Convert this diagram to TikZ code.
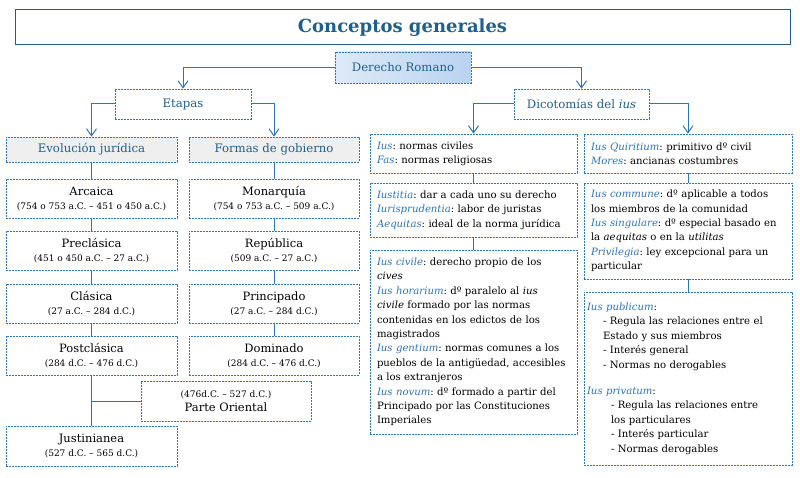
\documentclass[tikz,border=0pt]{standalone}
\usepackage{fontspec}
\setmainfont{DejaVu Serif}
\usepackage{tikz}
\usetikzlibrary{arrows.meta, positioning, calc}

\definecolor{titleblue}{HTML}{1F5F8B}
\definecolor{lineblue}{HTML}{2E75B6}
\definecolor{termblue}{HTML}{2E74B5}
\definecolor{headgray}{HTML}{EFEFEF}
\definecolor{romlight}{HTML}{DDEAF8}
\definecolor{romdark}{HTML}{BAD3F0}

\frenchspacing
\newcommand{\term}[1]{\textcolor{termblue}{\textit{#1}}}
\newcommand{\dates}[1]{{\fontsize{9}{13}\selectfont #1}}

\begin{document}
\begin{tikzpicture}[x=1pt, y=-1pt, >={Straight Barb[length=7pt,width=10pt]},
  box/.style={draw=lineblue, line width=0.8pt, dash pattern=on 2pt off 1pt, inner sep=0pt},
  head/.style={box, text=titleblue, font=\fontsize{11.7}{14}\selectfont},
  era/.style={box, minimum height=39pt, align=center, font=\fontsize{11.5}{14}\selectfont},
  note/.style={box, align=left, inner xsep=7pt, text width=193pt, font=\fontsize{10.1}{14.4}\selectfont},
  link/.style={draw=lineblue, line width=1pt}]

  % page
  \fill[white] (0,0) rectangle (800,478);
  \useasboundingbox (0,0) rectangle (800,478);

  % Title and root
  \node[box, solid, draw=titleblue, line width=1pt, minimum width=775pt, minimum height=35pt,
        text=titleblue, font=\fontsize{18}{20}\selectfont\bfseries] (title) at (402.5,27.5) {Conceptos generales};
  \node[head, minimum width=136pt, minimum height=31pt, left color=romlight, right color=romdark]
    (roman) at (403,67.5) {Derecho Romano};

  % Two main branches
  \node[head, minimum width=136pt, minimum height=30pt] (etapas) at (183,104) {Etapas};
  \node[head, minimum width=135pt, minimum height=30pt] (dicot) at (581.5,104) {Dicotomías del \textit{ius}};

  % Etapas: two columns
  \node[head, fill=headgray, minimum width=171pt, minimum height=25pt] (evol) at (91.5,149.5) {Evolución jurídica};
  \node[head, fill=headgray, minimum width=170pt, minimum height=25pt] (formas) at (274,149.5) {Formas de gobierno};

  \node[era, minimum width=171pt] (arcaica) at (91.5,198.5) {Arcaica\\\dates{(754 o 753 a.C. – 451 o 450 a.C.)}};
  \node[era, minimum width=171pt] (preclasica) at (91.5,250.5) {Preclásica\\\dates{(451 o 450 a.C. – 27 a.C.)}};
  \node[era, minimum width=171pt] (clasica) at (91.5,303.5) {Clásica\\\dates{(27 a.C. – 284 d.C.)}};
  \node[era, minimum width=171pt] (postclasica) at (91.5,355.5) {Postclásica\\\dates{(284 d.C. – 476 d.C.)}};
  \node[era, minimum width=170pt, minimum height=40pt] (oriental) at (226,401) {\dates{(476d.C. – 527 d.C.)}\\Parte Oriental};
  \node[era, minimum width=171pt, minimum height=40pt] (justinianea) at (91.5,446) {Justinianea\\\dates{(527 d.C. – 565 d.C.)}};

  \node[era, minimum width=170pt] (monarquia) at (274,198.5) {Monarquía\\\dates{(754 o 753 a.C. – 509 a.C.)}};
  \node[era, minimum width=170pt] (republica) at (274,250.5) {República\\\dates{(509 a.C. – 27 a.C.)}};
  \node[era, minimum width=170pt] (principado) at (274,303.5) {Principado\\\dates{(27 a.C. – 284 d.C.)}};
  \node[era, minimum width=170pt] (dominado) at (274,355.5) {Dominado\\\dates{(284 d.C. – 476 d.C.)}};

  % Dicotomias: left column
  \node[note, minimum height=39pt] (ius) at (473.5,153.5)
    {\term{Ius}: normas civiles\\
     \term{Fas}: normas religiosas};
  \node[note, minimum height=54pt] (iustitia) at (473.5,210)
    {\term{Iustitia}: dar a cada uno su derecho\\
     \term{Iurisprudentia}: labor de juristas\\
     \term{Aequitas}: ideal de la norma jurídica};
  \node[note, minimum height=184pt] (civile) at (473.5,342)
    {\term{Ius civile}: derecho propio de los\\
     \textit{cives}\\
     \term{Ius horarium}: dº paralelo al \textit{ius}\\
     \textit{civile} formado por las normas\\
     contenidas en los edictos de los\\
     magistrados\\
     \term{Ius gentium}: normas comunes a los\\
     pueblos de la antigüedad, accesibles\\
     a los extranjeros\\
     \term{Ius novum}: dº formado a partir del\\
     Principado por las Constituciones\\
     Imperiales};

  % Dicotomias: right column
  \node[note, text width=194pt, minimum height=39pt] (quiritium) at (688,153.5)
    {\term{Ius Quiritium}: primitivo dº civil\\
     \term{Mores}: ancianas costumbres};
  \node[note, text width=194pt, minimum height=96pt] (commune) at (688,231)
    {\term{Ius commune}: dº aplicable a todos\\
     los miembros de la comunidad\\
     \term{Ius singulare}: dº especial basado en\\
     la \textit{aequitas} o en la \textit{utilitas}\\
     \term{Privilegia}: ley excepcional para un\\
     particular};
  \node[note, inner xsep=3pt, text width=202pt, minimum height=173pt] (publicum) at (688,378.5)
    {\term{Ius publicum}:\\
     \hspace*{16pt}- Regula las relaciones entre el\\
     \hspace*{16pt}Estado y sus miembros\\
     \hspace*{16pt}- Interés general\\
     \hspace*{16pt}- Normas no derogables\\[12pt]
     \term{Ius privatum}:\\
     \hspace*{24pt}- Regula las relaciones entre\\
     \hspace*{24pt}los particulares\\
     \hspace*{24pt}- Interés particular\\
     \hspace*{24pt}- Normas derogables};

  % Arrows
  \draw[link, ->] (roman.west) -| (etapas.north);
  \draw[link, ->] (roman.east) -| (dicot.north);
  \draw[link, ->] (etapas.west) -| (evol.north);
  \draw[link, ->] (etapas.east) -| (formas.north);
  \draw[link, ->] (dicot.west) -| (ius.north);
  \draw[link, ->] (dicot.east) -| (quiritium.north);

  % Plain links
  \foreach \a/\b in {evol/arcaica, arcaica/preclasica, preclasica/clasica, clasica/postclasica,
                     postclasica/justinianea, formas/monarquia, monarquia/republica,
                     republica/principado, principado/dominado, ius/iustitia, iustitia/civile,
                     quiritium/commune, commune/publicum}
    \draw[link] (\a.south) -- (\b.north);
  \draw[link] (oriental.west) -- (oriental.west -| postclasica.south);
\end{tikzpicture}
\end{document}
